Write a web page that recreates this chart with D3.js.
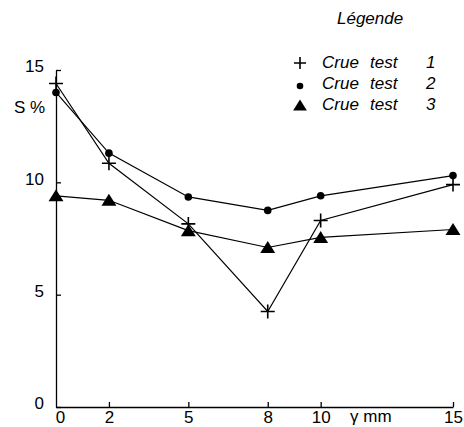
<!DOCTYPE html>
<html lang="fr">
<head>
<meta charset="utf-8">
<title>Crue test</title>
<style>
  body { margin: 0; background: #fff; }
  svg { display: block; font-family: "Liberation Sans", Arial, sans-serif; }
  .axis path, .axis line { stroke: #000; stroke-width: 1.3; }
  .axis text { font-size: 17px; fill: #000; }
  .serie { fill: none; stroke: #000; stroke-width: 1.2; }
  .leg { font-size: 17px; font-style: italic; }
</style>
</head>
<body>
<script src="https://cdn.jsdelivr.net/npm/d3@7"></script>
<script>
// diametre (mm)
var gamma = [0, 2, 5, 8, 10, 15];
// S % par crue test
var crue1 = [14.4, 10.85, 8.15, 4.25, 8.3, 9.9];
var crue2 = [14.0, 11.3, 9.35, 8.75, 9.4, 10.3];
var crue3 = [9.4, 9.2, 7.85, 7.1, 7.55, 7.9];
var yTicks = [0, 5, 10, 15];
var xTicks = [0, 2, 5, 8, 10, 15];
var legendLabels = ["1", "2", "3"];

var width = 464, height = 427;

var x = d3.scaleLinear().domain([0, 15]).range([56, 453]);
var y = d3.scaleLinear().domain([0, 15]).range([407, 70]);

var svg = d3.select("body").append("svg")
    .attr("width", width)
    .attr("height", height);

// axes
svg.append("g")
    .attr("class", "axis")
    .attr("transform", "translate(" + x(0) + ",0)")
    .call(d3.axisLeft(y).tickValues(yTicks).tickSizeInner(-5).tickSizeOuter(0).tickPadding(12))
    .selectAll("text").attr("dy", "0.1em");

var xa = svg.append("g")
    .attr("class", "axis")
    .attr("transform", "translate(0," + y(0) + ")")
    .call(d3.axisBottom(x).tickValues(xTicks).tickSizeInner(-5).tickSizeOuter(0).tickPadding(4));
xa.selectAll(".tick").filter(function(d) { return d === 0; }).select("line").remove();
xa.selectAll(".tick").filter(function(d) { return d === 0; }).select("text").attr("dx", 4);

// axis titles
svg.append("text")
    .attr("x", 14).attr("y", 113)
    .attr("font-size", 17)
    .text("S %");

svg.append("text")
    .attr("x", 350).attr("y", 422)
    .attr("font-size", 17)
    .text("\u03b3 mm");

// lines
var series = [crue1, crue2, crue3];
var line = d3.line()
    .x(function(d, i) { return x(gamma[i]); })
    .y(function(d) { return y(d); });

svg.selectAll(".serie")
    .data(series)
  .enter().append("path")
    .attr("class", "serie")
    .attr("d", line);

// markers
function plus(g, cx, cy, s) {
  g.append("path")
    .attr("d", "M" + (cx - s) + "," + cy + "H" + (cx + s) + "M" + cx + "," + (cy - s) + "V" + (cy + s))
    .attr("stroke", "#000").attr("stroke-width", 1.6).attr("fill", "none");
}
function dot(g, cx, cy, r) {
  g.append("circle").attr("cx", cx).attr("cy", cy).attr("r", r).attr("fill", "#000");
}
function tri(g, cx, cy, s) {
  g.append("path")
    .attr("d", "M" + cx + "," + (cy - s) + "L" + (cx + s * 1.15) + "," + (cy + s * 0.85) + "L" + (cx - s * 1.15) + "," + (cy + s * 0.85) + "Z")
    .attr("fill", "#000");
}

var marks = svg.append("g");
crue1.forEach(function(d, i) { plus(marks, x(gamma[i]), y(d), 7); });
crue2.forEach(function(d, i) { dot(marks, x(gamma[i]), y(d), 3.8); });
crue3.forEach(function(d, i) { tri(marks, x(gamma[i]), y(d), 6.5); });

// legend
var leg = svg.append("g");
leg.append("text")
    .attr("class", "leg")
    .attr("x", 337).attr("y", 24)
    .text("L\u00e9gende");

var markFns = [
  function(g, cx, cy) { plus(g, cx, cy - 5, 6); },
  function(g, cx, cy) { dot(g, cx, cy - 3, 3.3); },
  function(g, cx, cy) { tri(g, cx, cy - 4.5, 6); }
];
legendLabels.forEach(function(lab, i) {
  var by = 68 + i * 21;
  markFns[i](leg, 300, by);
  leg.append("text").attr("class", "leg").attr("x", 322).attr("y", by).text("Crue");
  leg.append("text").attr("class", "leg").attr("x", 370).attr("y", by).text("test");
  leg.append("text").attr("class", "leg").attr("x", 426).attr("y", by).text(lab);
});
</script>
</body>
</html>
